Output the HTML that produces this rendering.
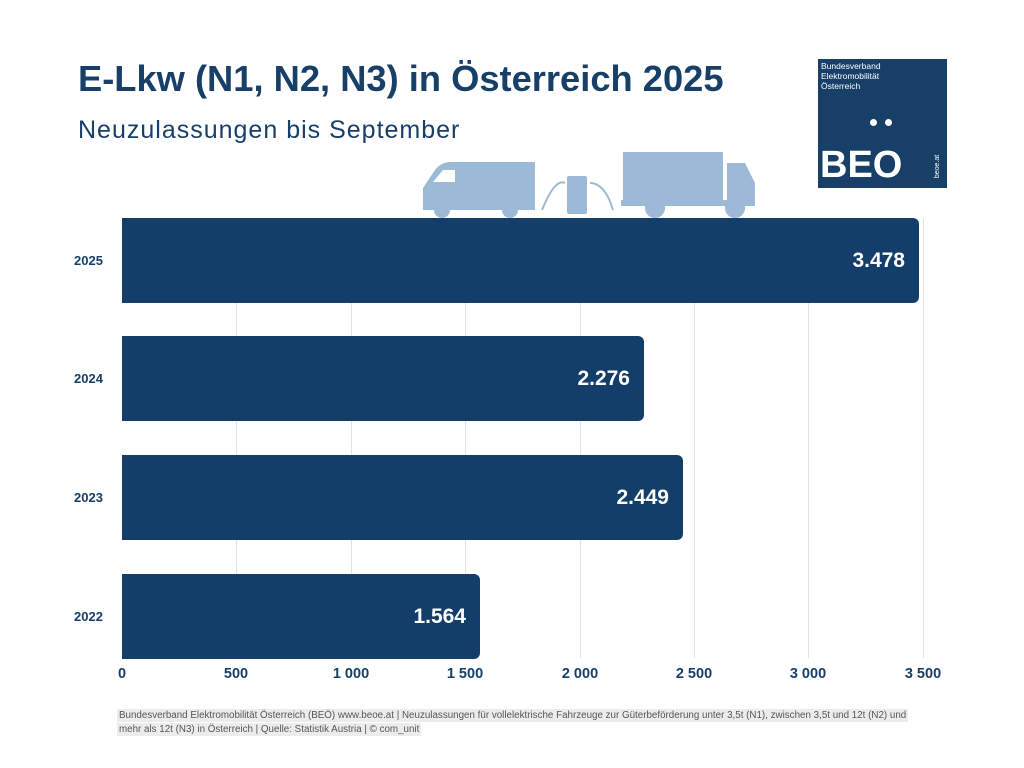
<!DOCTYPE html>
<html><head><meta charset="utf-8"><style>
body{margin:0;width:1024px;height:768px;background:#fff;position:relative;overflow:hidden;font-family:"Liberation Sans",sans-serif;color:#173f68}
.a{position:absolute}
.t{left:78px;top:58px;font-size:36.3px;font-weight:bold;color:#173f68}
.s{left:78px;top:116px;font-size:25px;color:#173f68;letter-spacing:1px}
.bar{position:absolute;left:122px;height:85px;background:#143e6a;border-radius:0 6px 6px 0}
.v{position:absolute;right:14px;top:0;line-height:85px;color:#fff;font-weight:bold;font-size:21px}
.y{position:absolute;left:74px;font-size:13px;font-weight:bold;line-height:85px;width:40px}
.g{position:absolute;top:218px;height:440px;width:1px;background:#dde3ea}
.x{position:absolute;top:666px;font-size:14.5px;font-weight:bold;width:80px;text-align:center;margin-left:-40px}
.f{position:absolute;left:117px;font-size:9.8px;color:#555;background:#ececec;padding:1px 2px;white-space:nowrap}
</style></head><body>
<div class="a t">E-Lkw (N1, N2, N3) in Österreich 2025</div>
<div class="a s">Neuzulassungen bis September</div>
<div class="a" style="left:818px;top:59px;width:129px;height:129px;background:#173f68;color:#fff">
<div class="a" style="left:3px;top:2px;font-size:8.5px;line-height:10px">Bundesverband<br>Elektromobilität<br>Österreich</div>
<div class="a" style="left:52px;top:60px;width:7px;height:7px;border-radius:50%;background:#fff"></div>
<div class="a" style="left:67px;top:60px;width:7px;height:7px;border-radius:50%;background:#fff"></div>
<div class="a" style="left:2px;top:86px;font-size:38px;font-weight:bold;line-height:40px">BEO</div>
<div class="a" style="left:108px;top:104px;font-size:7px;transform:rotate(-90deg)">beoe.at</div>
</div>
<svg class="a" style="left:415px;top:148px" width="345" height="70" viewBox="0 0 345 70">
<g fill="#9cb9d6">
<path d="M8 40 L20 22 Q26 14 36 14 L120 14 L120 62 L8 62 Z"/>
<circle cx="27" cy="62" r="8"/><circle cx="95" cy="62" r="8"/>
<rect x="152" y="28" width="20" height="38" rx="2"/>
<rect x="208" y="4" width="100" height="50"/>
<path d="M312 15 L330 15 L340 35 L340 58 L206 58 L206 52 L312 52 Z"/>
<circle cx="240" cy="60" r="10"/><circle cx="320" cy="60" r="10"/>
</g>
<path d="M28 22 L40 22 L40 34 L18 34 Z" fill="#fff"/>
<path d="M127 62 Q140 30 150 35 M175 35 Q190 35 198 62" stroke="#9cb9d6" stroke-width="2" fill="none"/>
</svg>
<div class="g" style="left:236px"></div><div class="g" style="left:351px"></div><div class="g" style="left:465px"></div><div class="g" style="left:580px"></div><div class="g" style="left:694px"></div><div class="g" style="left:808px"></div><div class="g" style="left:923px"></div>
<div class="bar" style="top:218px;width:797px"><span class="v">3.478</span></div>
<div class="bar" style="top:336px;width:522px"><span class="v">2.276</span></div>
<div class="bar" style="top:455px;width:561px"><span class="v">2.449</span></div>
<div class="bar" style="top:574px;width:358px"><span class="v">1.564</span></div>
<div class="y" style="top:218px">2025</div><div class="y" style="top:336px">2024</div><div class="y" style="top:455px">2023</div><div class="y" style="top:574px">2022</div>
<div class="x" style="left:122px">0</div><div class="x" style="left:236px">500</div><div class="x" style="left:351px">1 000</div><div class="x" style="left:465px">1 500</div><div class="x" style="left:580px">2 000</div><div class="x" style="left:694px">2 500</div><div class="x" style="left:808px">3 000</div><div class="x" style="left:923px">3 500</div>
<div class="f" style="top:709px">Bundesverband Elektromobilität Österreich (BEÖ) www.beoe.at | Neuzulassungen für vollelektrische Fahrzeuge zur Güterbeförderung unter 3,5t (N1), zwischen 3,5t und 12t (N2) und</div>
<div class="f" style="top:723px">mehr als 12t (N3) in Österreich | Quelle: Statistik Austria | © com_unit</div>
</body></html>
